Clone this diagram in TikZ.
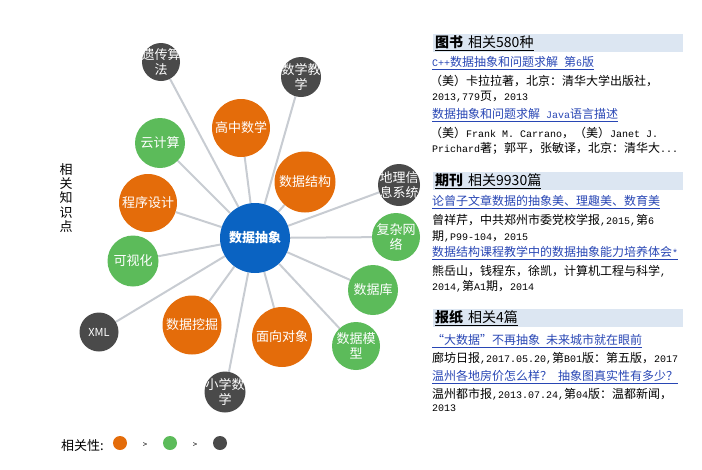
\documentclass[tikz,border=0pt]{standalone}
\usepackage{fontspec}
\setmainfont{Noto Sans CJK SC}
\newfontfamily\monof{Liberation Mono}
\newcommand{\hw}[1]{{\monof\fontsize{10}{12}\selectfont #1}}
\usetikzlibrary{backgrounds}
\definecolor{corange}{HTML}{E46C0A}
\definecolor{cgreen}{HTML}{5CBB5A}
\definecolor{cdark}{HTML}{4A4A4A}
\definecolor{cblue}{HTML}{0A63C2}
\definecolor{cedge}{HTML}{C8CCD2}
\definecolor{cbar}{HTML}{DCE6F2}
\definecolor{clink}{HTML}{2846B4}
\tikzset{
  bub/.style={circle, draw=none, inner sep=0pt, minimum size=#1},
  lbl/.style={text=white, font=\fontsize{13}{15}\selectfont, align=center, inner sep=0pt},
  link/.style={draw=cedge, line width=2pt},
  txt/.style={anchor=west, inner sep=0pt, font=\fontsize{12}{14}\selectfont},
  lnk/.style={txt, text=clink},
  hdr/.style={anchor=west, inner sep=0pt, font=\fontsize{14}{16}\selectfont},
  bar/.style={fill=cbar, draw=none, anchor=north west, inner sep=0pt, minimum width=250pt, minimum height=18pt},
  leg/.style={circle, inner sep=0pt, minimum size=14pt}
}
\begin{document}
\begin{tikzpicture}[x=1pt,y=-1pt]
\useasboundingbox (0,0) rectangle (702,469);

% bubbles
\node[bub=70pt, fill=cblue] (c) at (255,238) {};
\node[bub=38pt, fill=cdark] (ga) at (161,62) {};
\node[bub=40pt, fill=cdark] (sxjx) at (301,77) {};
\node[bub=58pt, fill=corange] (gzsx) at (241,128) {};
\node[bub=50pt, fill=cgreen] (yjs) at (160,143) {};
\node[bub=61pt, fill=corange] (sjjg) at (305,182) {};
\node[bub=58pt, fill=corange] (cxsj) at (148,203) {};
\node[bub=42pt, fill=cdark] (dlxx) at (399,185) {};
\node[bub=48pt, fill=cgreen] (fzwl) at (396,237) {};
\node[bub=51pt, fill=cgreen] (ksh) at (133,261) {};
\node[bub=50pt, fill=cgreen] (sjk) at (373,290) {};
\node[bub=39pt, fill=cdark] (xml) at (99,332) {};
\node[bub=59pt, fill=corange] (sjwj) at (192,325) {};
\node[bub=60pt, fill=corange] (mxdx) at (282,337) {};
\node[bub=48pt, fill=cgreen] (sjmx) at (356,346) {};
\node[bub=41pt, fill=cdark] (xxsx) at (225,392) {};

% connectors
\begin{scope}[on background layer]
\foreach \n in {ga,sxjx,gzsx,yjs,sjjg,cxsj,dlxx,fzwl,ksh,sjk,xml,sjwj,mxdx,sjmx,xxsx}
  \draw[link] (c) -- (\n);
\end{scope}

% labels
\node[lbl, font=\fontsize{13}{15}\selectfont\bfseries] (cl) at (c) {数据抽象};
\node[lbl] (gal) at (ga) {遗传算\\法};
\node[lbl] (sxjxl) at (sxjx) {数学教\\学};
\node[lbl] (gzsxl) at (gzsx) {高中数学};
\node[lbl] (yjsl) at (yjs) {云计算};
\node[lbl] (sjjgl) at (sjjg) {数据结构};
\node[lbl] (cxsjl) at (cxsj) {程序设计};
\node[lbl] (dlxxl) at (dlxx) {地理信\\息系统};
\node[lbl] (fzwll) at (fzwl) {复杂网\\络};
\node[lbl] (kshl) at (ksh) {可视化};
\node[lbl] (sjkl) at (sjk) {数据库};
\node[lbl, font=\fontsize{11}{13}\selectfont] (xmll) at (xml) {XML};
\node[lbl] (sjwjl) at (sjwj) {数据挖掘};
\node[lbl] (mxdxl) at (mxdx) {面向对象};
\node[lbl] (sjmxl) at (sjmx) {数据模\\型};
\node[lbl] (xxsxl) at (xxsx) {小学数\\学};

% vertical title
\node[align=center, inner sep=0pt, font=\fontsize{13}{14.2}\selectfont] (vt) at (66,198) {相\\关\\知\\识\\点};

% legend
\node[anchor=west, inner sep=0pt, font=\fontsize{13}{15}\selectfont] (lt) at (61,446) {相关性:};
\node[leg, fill=corange] (l1) at (120,443) {};
\node[inner sep=0pt, font=\fontsize{8}{10}\selectfont] (g1) at (145,445) {>};
\node[leg, fill=cgreen] (l2) at (170,443) {};
\node[inner sep=0pt, font=\fontsize{8}{10}\selectfont] (g2) at (195,445) {>};
\node[leg, fill=cdark] (l3) at (220,443) {};

% right panel: books
\node[bar] (b1) at (433,34) {};
\node[hdr] (h1) at (435,43) {\underline{\textbf{图书}\hspace{5pt}相关580种}};
\node[lnk] (t1) at (432,63) {\underline{\hw{C++}数据抽象和问题求解\hspace{6pt}第\hw{6}版}};
\node[txt] (t2) at (430,81) {（美）卡拉拉著，北京：清华大学出版社，};
\node[txt] (t3) at (432,97) {\hw{2013,779}页，\hw{2013}};
\node[lnk] (t4) at (432,115) {\underline{数据抽象和问题求解\hspace{6pt}\hw{Java}语言描述}};
\node[txt] (t5) at (430,133) {（美）\hw{Frank M. Carrano}，（美）\hw{Janet J.}};
\node[txt] (t6) at (432,148) {\hw{Prichard}著；郭平，张敏译，北京：清华大\hw{...}};

% journals
\node[bar] (b2) at (433,172) {};
\node[hdr] (h2) at (435,181) {\underline{\textbf{期刊}\hspace{5pt}相关9930篇}};
\node[lnk] (t7) at (432,202) {\underline{论曾子文章数据的抽象美、理趣美、数育美}};
\node[txt] (t8) at (432,220) {曾祥芹，中共郑州市委党校学报\hw{,2015,}第\hw{6}};
\node[txt] (t9) at (432,236) {期\hw{,P99-104}，\hw{2015}};
\node[lnk] (t10) at (432,253) {\underline{数据结构课程教学中的数据抽象能力培养体会\hw{*}}};
\node[txt] (t11) at (432,271) {熊岳山，钱程东，徐凯，计算机工程与科学\hw{,}};
\node[txt] (t12) at (432,286) {\hw{2014,}第\hw{A1}期，\hw{2014}};

% newspapers
\node[bar] (b3) at (433,309) {};
\node[hdr] (h3) at (435,318) {\underline{\textbf{报纸}\hspace{5pt}相关4篇}};
\node[lnk] (t13) at (432,341) {\underline{“大数据”不再抽象\hspace{6pt}未来城市就在眼前}};
\node[txt] (t14) at (432,358) {廊坊日报\hw{,2017.05.20,}第\hw{B01}版：第五版，\hw{2017}};
\node[lnk] (t15) at (432,377) {\underline{温州各地房价怎么样？\hspace{6pt}抽象图真实性有多少？}};
\node[txt] (t16) at (432,394) {温州都市报\hw{,2013.07.24,}第\hw{04}版：温都新闻，};
\node[txt] (t17) at (432,408) {\hw{2013}};
\end{tikzpicture}
\end{document}
